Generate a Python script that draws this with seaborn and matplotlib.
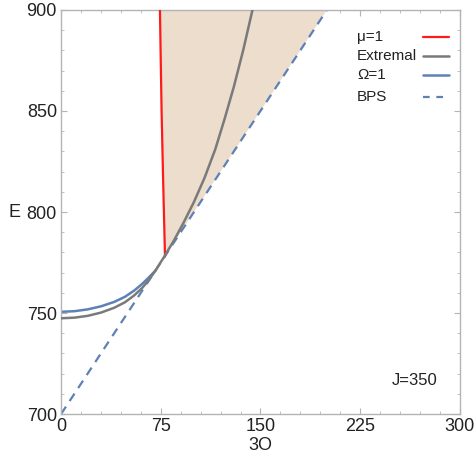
import numpy as np
import pandas as pd
import matplotlib
matplotlib.use('Agg')
import matplotlib.pyplot as plt
import seaborn as sns
from matplotlib.ticker import MultipleLocator

# values (x = 3O, y = E), J = 350
mu_x = [78.2, 77.3, 76.4, 75.6, 75.0, 74.4]
mu_E = [778.0, 802.0, 827.0, 851.0, 875.0, 900.0]

ext_x = [0, 10, 20, 30, 40, 48, 55, 61, 66, 71, 78, 85, 92, 100, 108, 116, 123, 130, 137, 144]
ext_E = [747.4, 747.7, 748.6, 750.2, 752.6, 755.3, 758.7, 762.4, 766.3, 771.0, 778.3, 786.0, 794.5,
         805.0, 817.0, 831.0, 846.0, 862.0, 880.0, 900.0]

omega_x = [0, 10, 20, 30, 40, 48, 55, 61, 66, 71]
omega_E = [750.6, 750.9, 751.8, 753.3, 755.5, 758.0, 761.1, 764.4, 767.6, 771.0]

bps_x = [0, 200]
bps_E = [700, 900]

# shaded region: red line down to the extremal curve, then back up along BPS
region_x = mu_x[::-1] + ext_x[10:8:-1] + [200]
region_E = mu_E[::-1] + ext_E[10:8:-1] + [900]

labels = ['\u03bc=1', 'Extremal', '\u03a9=1', 'BPS']
red = '#FF1A1A'
grey = '#7A7A7A'
blue = '#5E81B5'

sns.set_style('ticks')
plt.rcParams['font.family'] = ['Liberation Sans', 'DejaVu Sans']

fig = plt.figure(figsize=(4.77, 4.53), dpi=100)
ax = fig.add_axes([0.128, 0.086, 0.836, 0.892])

ax.fill(region_x, region_E, color='#EDDDCC', lw=0, zorder=1)

sns.lineplot(x=mu_x, y=mu_E, sort=False, estimator=None, color=red, lw=1.6, legend=False, ax=ax, zorder=3)
sns.lineplot(x=ext_x, y=ext_E, sort=False, estimator=None, color=grey, lw=1.8, legend=False, ax=ax, zorder=3)
sns.lineplot(x=omega_x, y=omega_E, sort=False, estimator=None, color=blue, lw=1.8, legend=False, ax=ax, zorder=2)
sns.lineplot(x=bps_x, y=bps_E, sort=False, estimator=None, color=blue, lw=1.6, ls=(0, (4, 3)),
             legend=False, ax=ax, zorder=2)

ax.set_xlim(0, 300)
ax.set_ylim(700, 900)
ax.xaxis.set_major_locator(MultipleLocator(75))
ax.xaxis.set_minor_locator(MultipleLocator(15))
ax.yaxis.set_major_locator(MultipleLocator(50))
ax.yaxis.set_minor_locator(MultipleLocator(10))

frame = '#B4B4B4'
for s in ax.spines.values():
    s.set_visible(True)
    s.set_color(frame)
    s.set_linewidth(1.0)
ax.tick_params(which='both', direction='in', top=True, right=True, color=frame,
               labelsize=13, labelcolor='#222222', pad=3)
ax.tick_params(which='major', length=4, width=0.8)
ax.tick_params(which='minor', length=2.5, width=0.6)

ax.set_xlabel('3O', fontsize=13, labelpad=1, color='#222222')
ax.set_ylabel('E', fontsize=13, rotation=0, color='#222222', ha='center', va='center')
ax.yaxis.set_label_coords(-0.118, 0.5)

ax.text(266, 716.5, 'J=350', fontsize=12, ha='center', va='center', color='#222222')

# legend: labels left-aligned, line samples on the right (Mathematica style)
styles = [dict(color=red, lw=1.6), dict(color=grey, lw=1.8),
          dict(color=blue, lw=1.8), dict(color=blue, lw=1.6, ls=(0, (3, 3)))]
rows = [0.933, 0.886, 0.839, 0.785]
for lab, st, yy in zip(labels, styles, rows):
    ax.text(0.742, yy, lab, transform=ax.transAxes, fontsize=11, ha='left', va='center', color='#222222')
    ax.plot([0.908, 0.972], [yy, yy], transform=ax.transAxes, **st)

fig.savefig('out.png', dpi=100)
